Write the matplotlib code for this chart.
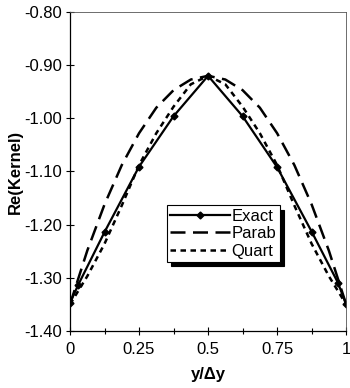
import numpy as np
import matplotlib
matplotlib.use("Agg")
import matplotlib.pyplot as plt
from matplotlib.ticker import MultipleLocator, FixedLocator

plt.rcParams['font.family'] = ['Liberation Sans', 'DejaVu Sans']
plt.rcParams['axes.unicode_minus'] = False

# values
x_exact = [0, 0.03, 0.125, 0.25, 0.375, 0.5, 0.625, 0.75, 0.875, 0.97, 1]
y_exact = [-1.347, -1.313, -1.214, -1.091, -0.996, -0.920, -0.996, -1.092, -1.213, -1.309, -1.350]

x_fine = [0, 0.0625, 0.125, 0.1875, 0.25, 0.3125, 0.375, 0.4375, 0.5,
          0.5625, 0.625, 0.6875, 0.75, 0.8125, 0.875, 0.9375, 1]
y_parab = [-1.350, -1.249, -1.162, -1.088, -1.028, -0.980, -0.947, -0.927, -0.920,
           -0.927, -0.947, -0.980, -1.028, -1.088, -1.162, -1.249, -1.350]
y_quart = [-1.350, -1.297, -1.236, -1.164, -1.088, -1.028, -0.978, -0.936, -0.920,
           -0.936, -0.978, -1.028, -1.088, -1.164, -1.236, -1.297, -1.350]

fig = plt.figure(figsize=(3.5, 3.88), dpi=100)
ax = fig.add_axes([0.2, 0.147, 0.789, 0.822])

ax.plot(x_exact, y_exact, color='black', lw=1.6, marker='D', ms=3.5, label='Exact')
ax.plot(x_fine, y_parab, color='black', lw=1.8, dashes=(6, 3), label='Parab')
ax.plot(x_fine, y_quart, color='black', lw=1.8, dashes=(2.2, 1.8), label='Quart')

ax.set_xlim(0, 1)
ax.set_ylim(-1.40, -0.80)
ax.xaxis.set_major_locator(FixedLocator([0, 0.25, 0.5, 0.75, 1]))
ax.set_xticklabels(['0', '0.25', '0.5', '0.75', '1'])
ax.xaxis.set_minor_locator(MultipleLocator(0.125))
ax.yaxis.set_major_locator(MultipleLocator(0.1))
ax.yaxis.set_major_formatter(matplotlib.ticker.FormatStrFormatter('%.2f'))
ax.tick_params(which='both', direction='inout', length=6, width=0.8, labelsize=12)
ax.tick_params(which='minor', length=4)
ax.tick_params(axis='x', pad=5)
ax.tick_params(axis='y', pad=3)

for s in ['top', 'right']:
    ax.spines[s].set_linewidth(0.6)
    ax.spines[s].set_color('#555555')
for s in ['left', 'bottom']:
    ax.spines[s].set_linewidth(0.9)

ax.set_ylabel('Re(Kernel)', fontweight='bold', fontsize=12, labelpad=1)
ax.set_xlabel('y/Δy', fontweight='bold', fontsize=12, labelpad=7)

leg = ax.legend(loc='upper left', bbox_to_anchor=(0.32, 0.42), fancybox=False,
                edgecolor='black', framealpha=1, fontsize=12, handlelength=3.6,
                handletextpad=0.1, borderpad=0.2, labelspacing=0.15,
                shadow={'color': 'black', 'alpha': 1, 'ox': 3, 'oy': -3})
leg.get_frame().set_linewidth(0.8)

fig.savefig('out.png', dpi=100)
